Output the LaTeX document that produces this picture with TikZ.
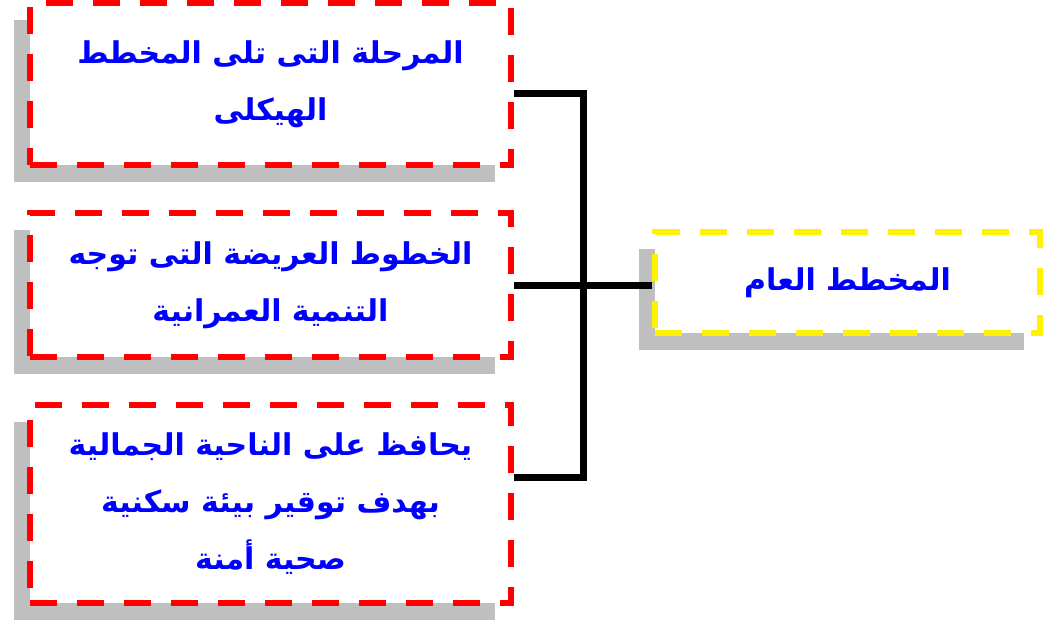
\documentclass[tikz,border=0pt]{standalone}
\usepackage{fontspec}
\newfontfamily\arabicfont[Script=Arabic]{DejaVu Sans}
\TeXXeTstate=1
\usetikzlibrary{shadows}

\begin{document}
\begin{tikzpicture}[x = 1pt, y = -1pt, font = \arabicfont\bfseries\fontsize{30}{57}\selectfont]
	\tikzstyle{boxStyle} = [shape = rectangle, draw, line width = 6pt, dash pattern = on 27pt off 20pt, fill = white, text = blue, align = center, inner sep = 0pt, drop shadow = {shadow xshift = -16pt, shadow yshift = -17pt, fill = black!25, opacity = 1}]
	\tikzstyle{redStyle} = [boxStyle, draw = red, minimum width = 481pt]
	\tikzstyle{yellowStyle} = [boxStyle, draw = yellow, minimum width = 385pt, minimum height = 101pt]
	\tikzstyle{linkStyle} = [line width = 7pt]
	\useasboundingbox (0,0) rectangle (1060,624);
	\node[style = redStyle, minimum height = 162pt] (p1) at (270.5, 84) {\beginR المرحلة التى تلى المخطط\endR\\ \beginR الهيكلى\endR};
	\node[style = redStyle, minimum height = 144pt] (p2) at (270.5, 285) {\beginR الخطوط العريضة التى توجه\endR\\ \beginR التنمية العمرانية\endR};
	\node[style = redStyle, minimum height = 198pt] (p3) at (270.5, 504) {\beginR يحافظ على الناحية الجمالية\endR\\ \beginR بهدف توقير بيئة سكنية\endR\\ \beginR صحية أمنة\endR};
	\node[style = yellowStyle] (g) at (847.5, 282.5) {\beginR المخطط العام\endR};
	\coordinate (j1) at (583, 93);
	\coordinate (j2) at (583, 285);
	\coordinate (j3) at (583, 477);
	\draw[style = linkStyle] (p1.east |- j1) -- (j1) -- (j3) -- (p3.east |- j3);
	\draw[style = linkStyle] (p2.east |- j2) -- (g.west |- j2);
\end{tikzpicture}
\end{document}
